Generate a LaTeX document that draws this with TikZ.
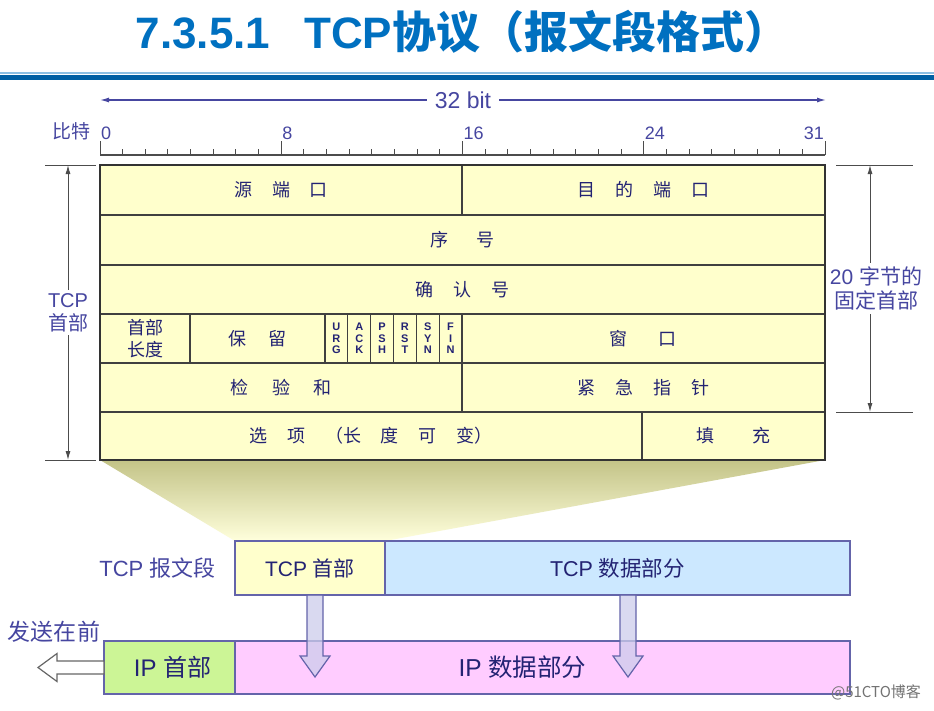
\documentclass[tikz,border=0pt]{standalone}
\usepackage{fontspec}
\setmainfont{Liberation Sans}
\newfontfamily\cjk{Noto Sans CJK SC}
\usetikzlibrary{positioning,arrows.meta,calc,backgrounds}

\definecolor{titleblue}{RGB}{0,112,192}
\definecolor{lblue}{RGB}{70,70,160}
\definecolor{navy}{RGB}{35,35,115}
\definecolor{cellyellow}{RGB}{255,255,204}
\definecolor{datablue}{RGB}{204,232,255}
\definecolor{ipgreen}{RGB}{204,245,150}
\definecolor{ippink}{RGB}{255,204,255}
\definecolor{boxline}{RGB}{100,100,170}
\definecolor{arrowfill}{RGB}{205,205,235}
\definecolor{funtop}{RGB}{195,195,135}
\definecolor{funbot}{RGB}{255,255,220}

\newcommand{\cgap}[1][1.1em]{\hspace{#1}}

\begin{document}
\begin{tikzpicture}[x=1pt, y=-1pt, >={Latex[length=9pt,width=5pt]},
  cell/.style={draw=black!75, line width=1.3pt, fill=cellyellow, inner sep=0pt, outer sep=0pt,
    text=navy, font=\cjk\fontsize{18}{24}\selectfont, align=center, anchor=north west},
  flagcell/.style={cell, minimum width=22.83pt, minimum height=49pt, font=\bfseries\fontsize{11}{11.5}\selectfont},
  box/.style={draw=boxline, line width=1.3pt, inner sep=0pt, outer sep=0pt, text=navy,
    font=\fontsize{24}{28}\selectfont, anchor=north west},
  lbl/.style={text=lblue, font=\fontsize{18}{22}\selectfont},
  dimline/.style={draw=black!70, line width=1pt},
  hollow/.style={draw=boxline, line width=1.2pt, fill=arrowfill, fill opacity=0.75}]

\useasboundingbox (0,0) rectangle (934,710);

% title
\node[text=titleblue, font=\bfseries\fontsize{44}{48}\selectfont] (title) at (462,32)
  {7.3.5.1\hspace{34pt}TCP{\cjk 协议（报文段格式）}};
\draw[line width=5pt, titleblue!85!black] (0,77) -- (934,77);
\draw[line width=1.5pt, titleblue!45!white] (0,73) -- (934,73);

% 32 bit width
\coordinate (wl) at (100,100);
\coordinate (wr) at (826,100);
\draw[<->, draw=lblue, line width=1.2pt] (wl) -- node[fill=white, lbl, font=\fontsize{23}{24}\selectfont, inner sep=8pt] (width) {32 bit} (wr);

% bit ruler
\draw[black!70, line width=1.2pt] (100,155) -- (825,155);
\foreach \i in {0,...,32}
  \draw[black!70, line width=1pt] ({100+\i*22.656},155) -- ++(0,-6);
\foreach \i in {0,8,16,24,32}
  \draw[black!70, line width=1pt] ({100+\i*22.656},155) -- ++(0,-14);
\foreach \i in {0,8,16,24}
  \node[lbl, anchor=south west, inner sep=1pt] (bit\i) at ({100+\i*22.656},141) {\i};
\node[lbl, anchor=south east, inner sep=1pt] (bit31) at (825,141) {31};
\node[lbl, anchor=south east, inner sep=1pt, font=\cjk\fontsize{19}{22}\selectfont] (bitlbl) at (92,141) {比特};

% header fields
\node[cell, minimum width=362pt, minimum height=50pt] (srcport) at (100,165) {源\cgap 端\cgap 口};
\node[cell, minimum width=363pt, minimum height=50pt] (dstport) at (srcport.north east) {目\cgap[0.9em] 的\cgap[0.9em] 端\cgap[0.9em] 口};
\node[cell, minimum width=725pt, minimum height=50pt] (seqno) at (srcport.south west) {序\cgap[1.3em] 号};
\node[cell, minimum width=725pt, minimum height=49pt] (ackno) at (seqno.south west) {确\cgap 认\cgap 号};
\node[cell, minimum width=90pt, minimum height=49pt] (hlen) at (ackno.south west) {首部\\[-2pt]长度};
\node[cell, minimum width=135pt, minimum height=49pt] (rsv) at (hlen.north east) {保\cgap[1em] 留};
\foreach \f [count=\i from 0] in {{U\\R\\G},{A\\C\\K},{P\\S\\H},{R\\S\\T},{S\\Y\\N},{F\\I\\N}}
  \node[flagcell] (flag\i) at ({325+\i*22.83},314) {\f};
\node[cell, minimum width=363pt, minimum height=49pt] (window) at (flag5.north east) {窗\cgap[1.5em] 口};
\node[cell, minimum width=362pt, minimum height=49pt] (cksum) at (hlen.south west) {检\cgap[1.1em] 验\cgap[1.1em] 和};
\node[cell, minimum width=363pt, minimum height=49pt] (urgptr) at (cksum.north east) {紧\cgap 急\cgap 指\cgap 针};
\node[cell, minimum width=542pt, minimum height=48pt] (opts) at (cksum.south west) {选\cgap 项\cgap （长\cgap 度\cgap 可\cgap 变）};
\node[cell, minimum width=183pt, minimum height=48pt] (pad) at (opts.north east) {填\cgap[1.9em] 充};
\draw[line width=2.2pt, black!80] (srcport.north west) rectangle (pad.south east);

% header length marks
\coordinate (lt) at (68,165);
\coordinate (lb) at (68,460);
\draw[dimline] ($(lt)+(-23,0)$) -- ($(lt)+(28,0)$);
\draw[dimline] ($(lb)+(-23,0)$) -- ($(lb)+(28,0)$);
\draw[dimline, <->] (lt) -- node[fill=white, lbl, font=\fontsize{20}{23}\selectfont, align=center] (hdrlbl) {TCP\\{\cjk 首部}} (lb);

\coordinate (rt) at (870,165);
\coordinate (rb) at (870,412);
\draw[dimline] ($(rt)+(-34,0)$) -- ($(rt)+(43,0)$);
\draw[dimline] ($(rb)+(-34,0)$) -- ($(rb)+(43,0)$);
\draw[dimline, <->] (rt) -- node[fill=white, lbl, font=\fontsize{21}{24}\selectfont, align=center, xshift=6pt] (fixlbl) {20 {\cjk 字节的}\\{\cjk 固定首部}} (rb);

% segment and datagram
\node[box, fill=cellyellow, minimum width=150pt, minimum height=54pt, font=\fontsize{21}{24}\selectfont] (tcphdr) at (235,541) {TCP {\cjk 首部}};
\node[box, fill=datablue, minimum width=465pt, minimum height=54pt, font=\fontsize{21.5}{24}\selectfont] (tcpdata) at (tcphdr.north east) {TCP {\cjk 数据部分}};
\node[lbl, font=\fontsize{22}{26}\selectfont, left=16pt of tcphdr] (seglbl) {TCP {\cjk 报文段}};

\node[box, fill=ipgreen, minimum width=131pt, minimum height=53pt] (iphdr) at (104,641) {\hspace{6pt}IP {\cjk 首部}};
\node[box, fill=ippink, minimum width=615pt, minimum height=53pt] (ipdata) at (iphdr.north east) {};
\node[text=navy, font=\fontsize{24.5}{28}\selectfont] (ipdatalbl) at ($(ipdata.center)+(-20,0)$) {IP {\cjk 数据部分}};
\node[lbl, font=\cjk\fontsize{23}{26}\selectfont] (sendfirst) at (54,632) {发送在前};

% hollow arrows
\coordinate (a1) at ($(tcphdr.south)+(5,0)$);
\coordinate (a2) at ($(tcpdata.south)+(10.5,0)$);
\draw[hollow] ($(a1)+(-8,0)$) -- ++(0,61) -- ++(-7,0) -- ++(15,21) -- ++(15,-21) -- ++(-7,0) -- ++(0,-61) -- cycle;
\draw[hollow] ($(a2)+(-8,0)$) -- ++(0,61) -- ++(-7,0) -- ++(15,21) -- ++(15,-21) -- ++(-7,0) -- ++(0,-61) -- cycle;
\draw[draw=black!60, line width=1.2pt, fill=white] ($(iphdr.west)+(0,-6.5)$) -- ++(-47,0) -- ++(0,-7.5) -- ++(-19,14) -- ++(19,14) -- ++(0,-7.5) -- ++(47,0) -- cycle;

\node[text=black!55, font=\cjk\fontsize{15}{16}\selectfont] (wm) at (876,692) {@51CTO博客};

% funnel from the header to the segment
\begin{scope}[on background layer]
  \fill[white] (0,0) rectangle (934,710);
  \shade[top color=funtop, bottom color=funbot] (opts.south west) -- (pad.south east) -- (tcphdr.north east) -- (tcphdr.north west) -- cycle;
\end{scope}
\end{tikzpicture}
\end{document}
